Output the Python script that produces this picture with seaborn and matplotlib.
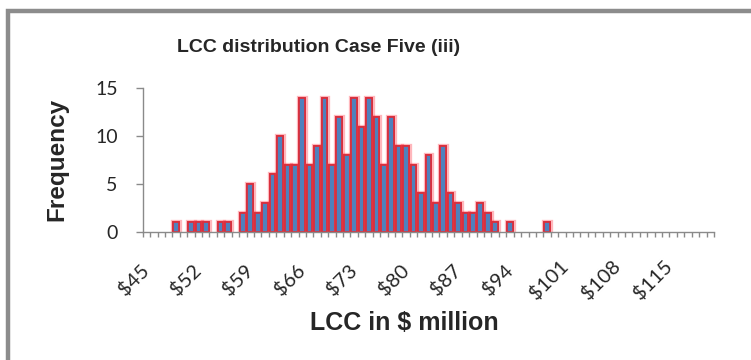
import numpy as np
import matplotlib
matplotlib.use("Agg")
import matplotlib.pyplot as plt
import matplotlib.patheffects as pe
from matplotlib.transforms import ScaledTranslation
from matplotlib.patches import Rectangle
import seaborn as sns
import pandas as pd

# LCC bins ($ million) and simulated frequency per bin
lcc_bins = list(range(45, 122))
frequency = [
    0, 0, 0, 0, 1, 0, 1, 1, 1, 0,
    1, 1, 0, 2, 5, 2, 3, 6, 10, 7,
    7, 14, 7, 9, 14, 7, 12, 8, 14, 11,
    14, 12, 7, 12, 9, 9, 7, 4, 8, 3,
    9, 4, 3, 2, 2, 3, 2, 1, 0, 1,
    0, 0, 0, 0, 1, 0, 0, 0, 0, 0,
    0, 0, 0, 0, 0, 0, 0, 0, 0, 0,
    0, 0, 0, 0, 0, 0, 0,
]
bin_labels = [f"${v}" for v in lcc_bins]
label_step = 7
y_ticks = [0, 5, 10, 15]

title = "LCC distribution Case Five (iii)"
x_title = "LCC in $ million"
y_title = "Frequency"

sns.set_style("white")
plt.rcParams["font.family"] = ["Liberation Sans", "DejaVu Sans"]

W, H = 751, 360
fig = plt.figure(figsize=(W / 100, H / 100), dpi=100)
ax = fig.add_axes([142.7 / W, 1 - 231.7 / H, (714 - 142.7) / W, (231.7 - 88.3) / H])

df = pd.DataFrame({"bin": bin_labels, "count": frequency})
sns.barplot(data=df, x="bin", y="count", order=bin_labels, color="#4f81bd",
            saturation=1, width=0.76, edgecolor="#d9303e", linewidth=1.3, ax=ax)
for p in ax.patches:
    if p.get_height() == 0:
        p.set_visible(False)
        continue
    p.set_path_effects([pe.withStroke(linewidth=3.8, foreground=(1.0, 0.2, 0.25, 0.35)),
                        pe.Normal()])

ax.set_xlim(-0.5, len(lcc_bins) - 0.5)
ax.set_ylim(0, 15)
ax.set_xlabel("")
ax.set_ylabel("")

# Spines
for side in ["top", "right"]:
    ax.spines[side].set_visible(False)
for side in ["left", "bottom"]:
    ax.spines[side].set_color("#8a8a8a")
    ax.spines[side].set_linewidth(1.0)

# Y axis
ax.set_yticks(y_ticks)
ax.set_yticklabels([str(v) for v in y_ticks], family=["Lato", "DejaVu Sans"], fontsize=14, color="#262626")
ax.tick_params(axis="y", direction="out", length=5, width=1, color="#8a8a8a", pad=13, left=True)

# X axis: tick marks on every bin boundary, labels every seventh bin
ax.set_xticks(np.arange(-0.5, len(lcc_bins), 1), minor=True)
ax.tick_params(axis="x", which="minor", direction="out", length=3.6, width=1, color="#8a8a8a", bottom=True)
major = list(range(0, len(lcc_bins), label_step))
ax.set_xticks(major)
ax.set_xticklabels([bin_labels[i] for i in major], rotation=45, ha="center", va="center",
                   family=["Lato", "DejaVu Sans"], fontsize=14.5, color="#262626")
ax.tick_params(axis="x", which="major", length=0, pad=34.8)
shift = ScaledTranslation(-12.7 / 100, 0, fig.dpi_scale_trans)
for lab in ax.get_xticklabels():
    lab.set_transform(lab.get_transform() + shift)

# Titles
fig.text(319 / W, 1 - 47 / H, title, ha="center", va="center", fontsize=14,
         fontweight="bold")
fig.text(404 / W, 1 - 323 / H, x_title, ha="center", va="center", fontsize=18,
         fontweight="bold")
fig.text(57 / W, 1 - 159 / H, y_title, ha="center", va="center", rotation=90,
         fontsize=17.5, fontweight="bold")

# Chart frame
fig.patches.append(Rectangle((7.6 / W, -0.2), 2.0, 1.2 - 10.5 / H, transform=fig.transFigure,
                             fill=False, edgecolor="#8c8c8c", linewidth=3.2, clip_on=False))

fig.savefig("out.png", dpi=100, facecolor="white")
